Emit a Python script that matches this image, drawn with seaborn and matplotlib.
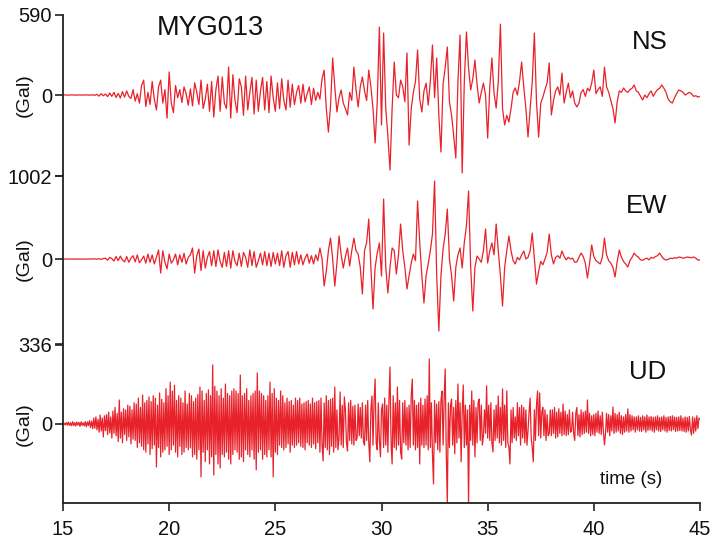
import numpy as np
import pandas as pd
import matplotlib
matplotlib.use("Agg")
import matplotlib.pyplot as plt
import seaborn as sns

# ---------------- data (accelerations in Gal) ----------------
station = "MYG013"
components = ["NS", "EW", "UD"]
t_start = 15.0
dt_ns = 0.1
dt_ew = 0.1
dt_ud = 0.05

ns_values = [
    0, 1, -1, 0, 1, 0, -1, 1, 0, 0,
    0, 1, 0, -1, 2, -2, 5, -8, 10, -6,
    8, -12, 15, -10, 20, -18, 12, -22, 25, -15,
    30, -10, -25, 40, -45, 10, -60, 70, 110, -85,
    20, -70, 100, -30, -110, 60, 110, -60, 40, -170,
    170, -60, -130, 70, -20, 40, -55, 60, 10, -75,
    45, -80, 90, 20, -70, 110, -100, -30, 80, -120,
    100, -162, 40, 140, -120, 133, -60, -100, 206, -170,
    150, -40, -130, 120, 60, -150, 140, -110, 20, 130,
    -140, 110, -120, 30, 130, -110, 100, -130, 140, -20,
    -120, 90, -100, 120, -40, -110, 110, -90, 80, -70,
    20, 70, -60, 80, -50, 10, 60, -70, 50, -40,
    20, -30, 120, 184, -100, -273, -80, 273, 60, -125,
    -20, 37, -60, -100, -147, 20, -40, 206, 40, -88,
    60, 133, 30, -40, 184, 60, -100, -354, -50, 501,
    -221, 457, -100, -300, -553, -100, 243, 0, -20, 110,
    60, -50, 310, -369, -100, 20, 100, 332, -30, -125,
    30, 88, -74, 100, 369, -20, 273, -150, -420, 80,
    200, 354, -50, -150, -300, -465, 100, 442, -575, 100,
    465, 200, 37, 120, 258, 80, -59, 20, 88, 0,
    -317, 60, 273, 15, -96, 100, 523, -100, -221, -150,
    -199, -100, 20, 52, 0, 100, 243, 60, -100, -310,
    -100, 100, 457, -50, -310, -60, -15, 40, 90, 236,
    -147, -40, 30, 60, 0, 162, -59, 20, 88, -20,
    30, -59, -88, -60, 20, 40, -10, 50, 30, 90,
    184, 10, 40, 60, -10, 206, 60, 20, -40, -100,
    -206, -50, 30, 20, 52, 30, 20, 40, 50, 74,
    30, 20, -10, -37, 0, -20, 10, 30, -10, 20,
    40, 50, 74, 50, 20, -30, -50, -59, -20, 10,
    37, 30, 20, 0, 10, 20, 10, -10, -5, -15,
    -10,
]

ew_values = [
    0, 0, 1, 0, -1, 0, 1, 0, 0, -1,
    0, 1, -1, 2, -2, 3, -3, 4, -5, 6,
    10, -15, 20, 5, -25, 30, -20, 35, -10, -35,
    30, -40, 10, 40, -35, 50, -45, -10, 35, -50,
    60, -40, 50, -60, 20, 109, -169, 100, -40, -120,
    60, -50, -10, 60, -70, 50, -40, 70, -60, 20,
    50, 133, -169, 40, 120, -140, 100, -110, 20, 90,
    -80, 100, -90, 110, -30, -100, 80, -90, 100, -110,
    100, -30, -80, 70, -90, 80, 20, -100, 110, -80,
    90, -100, -20, 70, -70, 90, -80, 70, -90, 80,
    -60, 70, -80, 100, -100, 40, 90, -100, 80, -70,
    90, -60, 50, -70, 10, 60, -50, 40, -60, 50,
    -20, 133, 0, -326, -150, 100, 253, 0, -326, -50,
    278, 50, -109, 30, 133, -85, 100, 253, 100, 60,
    -100, -422, 100, 200, 483, -100, -603, -100, 72, 193,
    -205, 724, -100, -410, -100, 133, 100, -181, 50, 422,
    100, -100, -362, -200, -50, 60, -20, 700, 200, -200,
    -531, -200, -60, 100, 300, 941, -200, -869, -200, 121,
    300, 603, 0, -200, -507, -100, 50, 133, -109, 200,
    400, 821, -100, -628, -100, 36, 0, -40, 100, 362,
    -48, 100, 193, 50, 422, 100, -200, -567, -100, 100,
    278, 100, -20, -60, 20, -10, 50, 97, 0, 20,
    100, 314, 0, -302, -150, -30, -70, 0, 80, 302,
    50, -60, 20, 40, 10, 97, 30, -10, 20, 0,
    10, -40, -36, 20, 72, 30, -50, -229, -50, 169,
    30, -20, -40, -60, 20, 253, 50, -20, -50, -100,
    -217, -30, 109, 20, -30, -60, -97, -20, 20, 72,
    40, 20, -10, -15, 0, 10, -10, 20, 10, 30,
    40, 72, 30, 0, -12, -5, 10, 5, 15, 10,
    24, 20, 10, 15, 24, 20, 15, 24, 10, -12,
    -12,
]

ud_values = [
    0, 3, -4, 6, -5, 8, -6, 5, -8, 10, -7, 6, -9, 8, -5, 7, -10, 9, -6, 5,
    -8, 10, -12, 9, -7, 14, -15, 12, -20, 25, -18, 30, -25, 20, -35, 38, -30, 25, -55, 35,
    -28, 40, -45, 50, -38, 30, -60, 55, -40, 70, -50, 45, -75, 102, -60, 50, -80, 65, -45, 60,
    -70, 80, -55, 75, -85, 60, -65, 90, -70, 85, -100, 110, -80, 70, -95, 123, -110, 90, -120, 100,
    -85, 115, -130, 95, -105, 120, -90, 110, -183, 80, -100, 132, -140, 105, -120, 90, -110, 150, -95, 120,
    -130, 178, -110, 140, -90, 165, -120, 100, -140, 120, -95, 110, -130, 90, -120, 140, -100, 85, -110, 130,
    -102, 120, -140, 95, -130, 110, -150, 125, -110, 157, -225, 140, -120, 100, -160, 130, -110, 145, -170, 120,
    -140, 251, -217, 160, -130, 140, -170, 120, -187, 150, -130, 110, -140, 170, -120, 130, -150, 120, -170, 140,
    -130, 150, -110, 140, -120, 130, -150, 208, -140, 120, -160, 130, -110, 150, -130, 100, -140, 120, -110, 130,
    -150, 140, -195, 217, -120, 140, -110, 130, -150, 120, -130, 100, -140, 120, -110, 178, -140, 130, -225, 150,
    -120, 110, -130, 100, -90, 140, -100, 120, -110, 90, -100, 110, -85, 95, -120, 100, -90, 80, -100, 110,
    -90, 100, -80, 110, -95, 85, -100, 90, -110, 95, -80, 100, -90, 85, -100, 110, -85, 90, -105, 95,
    -80, 100, -120, 110, -90, -157, 90, -100, 120, -110, 100, -130, 105, -95, 110, -120, 157, -100, 60, -110,
    -60, 136, -90, 80, -100, 115, 60, -80, -115, 90, -70, 100, -85, 75, -90, 80, -70, -60, 85, -50,
    70, -60, 90, -75, -90, 80, -70, 100, -80, -161, 60, 119, -90, 100, 191, -80, -110, 90, -70, -140,
    60, 85, -100, 110, -90, 80, -120, 100, 242, -80, -170, 120, -100, 90, -110, 157, -90, 100, -120, -149,
    90, -80, 100, -90, 70, -110, 80, -100, 120, 191, -90, 100, -110, 80, -100, 90, -170, 110, -90, 80,
    -100, 106, -90, 120, -110, 276, -100, 90, -130, -255, 100, -80, 85, -110, 95, -120, 100, 140, -90, 110,
    234, -120, -340, 90, -100, 80, 106, -90, 70, -127, 100, -80, 170, -60, 90, -161, 50, 166, -100, 80,
    -90, 60, -340, 80, -70, 140, -90, 100, -140, 70, -80, 90, 106, -70, 80, -90, -50, 60, -40, 162,
    -60, 80, -70, 90, -80, -119, 60, -70, 80, -60, 119, -80, 70, -90, 149, -70, 80, -100, 140, -80,
    -100, -170, 60, -80, 70, -60, 30, -70, 90, -50, 70, -90, 80, -60, 70, -80, 60, -90, -30, 50,
    110, -60, -100, -161, 60, -70, 80, 140, -50, 132, -60, 50, 70, -50, 60, -70, 40, -50, -40, 60,
    -50, 60, -40, 70, -60, 50, -55, 65, -40, 50, -50, 85, -45, 55, -50, 40, -45, 60, -35, -30,
    50, -40, -70, 45, 70, -50, 40, -55, 60, -45, 50, -40, 55, -35, 102, -40, 45, -50, 35, -45,
    40, -50, 45, -35, 55, -40, 35, -45, 50, -30, -89, -40, 45, -35, 40, -50, 35, -30, 72, -40,
    45, -35, 40, -30, 50, -40, 35, -45, 30, -35, 40, -30, 64, -35, 40, -30, 35, -25, 30, -35,
    30, -25, 35, -30, 28, -32, 35, -25, 30, -35, 38, -28, 30, -25, 32, -30, 28, -35, 30, -25,
    35, -30, 28, -32, 30, -25, 35, -30, 28, -35, 30, -28, 32, -30, 35, -25, 30, -32, 28, -30,
    30, -28, 35, -30, 25, -32, 30, -35, 28, -30, 32, -25, -47, 30, -40, 25, -30, 35, -20, 25,
    20,
]

top_ticks = [590, 1002, 336]          # labelled max of each panel
y_limits = [(-597, 590), (-1026, 1002), (-336, 340)]
x_ticks = [15, 20, 25, 30, 35, 40, 45]
x_label = "time (s)"
y_label = "(Gal)"

# ---------------- styling ----------------
sns.set_style("white")
plt.rcParams["font.family"] = ["Liberation Sans", "DejaVu Sans"]
RED = "#e8222b"
AXC = "#222222"
TXT = "#111111"

W, H = 710, 544
fig = plt.figure(figsize=(W / 100, H / 100), dpi=100)
left_px, right_px = 63, 700
panel_px = [(15, 176), (176, 344), (344, 503)]

series = [(ns_values, dt_ns), (ew_values, dt_ew), (ud_values, dt_ud)]
comp_pos = [(42.65, 391), (42.46, 640), (42.55, 221)]

axes = []
for i, ((vals, dt), (ptop, pbot)) in enumerate(zip(series, panel_px)):
    ax = fig.add_axes([left_px / W, 1 - pbot / H,
                       (right_px - left_px) / W, (pbot - ptop) / H])
    axes.append(ax)
    df = pd.DataFrame({
        "time": t_start + np.arange(len(vals)) * dt,
        "acc": np.asarray(vals, dtype=float),
    })
    sns.lineplot(data=df, x="time", y="acc", ax=ax, color=RED,
                 linewidth=0.9, estimator=None, sort=False)
    ax.set_xlim(15, 45)
    lo, hi = y_limits[i]
    ax.set_ylim(lo, hi)
    for s in ["top", "right"]:
        ax.spines[s].set_visible(False)
    ax.spines["left"].set_color(AXC)
    ax.spines["left"].set_linewidth(1.3)
    if i < 2:
        ax.spines["bottom"].set_visible(False)
        ax.set_yticks([lo, 0, top_ticks[i]])
        ax.set_yticklabels(["", "0", str(top_ticks[i])])
        ax.tick_params(axis="x", bottom=False, labelbottom=False)
    else:
        ax.spines["bottom"].set_color(AXC)
        ax.spines["bottom"].set_linewidth(1.3)
        ax.set_yticks([0, top_ticks[i]])
        ax.set_yticklabels(["0", str(top_ticks[i])])
        ax.set_xticks(x_ticks)
        ax.set_xticklabels([str(v) for v in x_ticks])
        ax.tick_params(axis="x", bottom=True, direction="out", length=6,
                       width=1.2, color=AXC, labelsize=14.5, pad=6,
                       labelcolor=TXT)
    ax.tick_params(axis="y", left=True, direction="out", length=6, width=1.2,
                   color=AXC, labelsize=14.5, pad=2, labelcolor=TXT)
    ax.set_xlabel("")
    ax.set_ylabel(y_label, fontsize=14, color=TXT)
    zero_frac = (0 - lo) / (hi - lo)
    ax.yaxis.set_label_coords(-(63 - 33) / 637, zero_frac)
    ax.text(comp_pos[i][0], comp_pos[i][1], components[i], fontsize=18.5,
            ha="center", va="center", color=TXT)
    ax.set_facecolor("white")

axes[0].text(21.92, 494, station, fontsize=19.5, ha="center", va="center",
             color=TXT)
axes[2].text(41.76, -238, x_label, fontsize=13.5, ha="center", va="center",
             color=TXT)

fig.savefig("out.png", dpi=100, facecolor="white")
